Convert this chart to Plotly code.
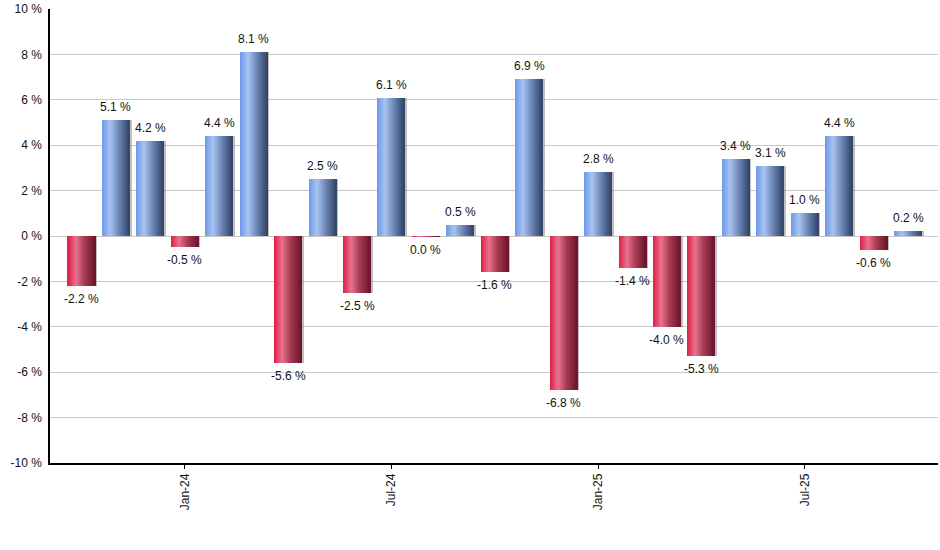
import plotly.graph_objects as go

months = ["Oct-23", "Nov-23", "Dec-23", "Jan-24", "Feb-24", "Mar-24", "Apr-24", "May-24",
          "Jun-24", "Jul-24", "Aug-24", "Sep-24", "Oct-24", "Nov-24", "Dec-24", "Jan-25",
          "Feb-25", "Mar-25", "Apr-25", "May-25", "Jun-25", "Jul-25", "Aug-25", "Sep-25", "Oct-25"]
returns = [-2.2, 5.1, 4.2, -0.5, 4.4, 8.1, -5.6, 2.5, -2.5, 6.1, -0.04, 0.5, -1.6, 6.9, -6.8,
           2.8, -1.4, -4.0, -5.3, 3.4, 3.1, 1.0, 4.4, -0.6, 0.2]
labels = ["-2.2 %", "5.1 %", "4.2 %", "-0.5 %", "4.4 %", "8.1 %", "-5.6 %", "2.5 %", "-2.5 %",
          "6.1 %", "0.0 %", "0.5 %", "-1.6 %", "6.9 %", "-6.8 %", "2.8 %", "-1.4 %", "-4.0 %",
          "-5.3 %", "3.4 %", "3.1 %", "1.0 %", "4.4 %", "-0.6 %", "0.2 %"]
y_ticks = [-10, -8, -6, -4, -2, 0, 2, 4, 6, 8, 10]
y_tick_text = ["%d %%" % v for v in y_ticks]

x = list(range(len(months)))
tick_idx = [i for i, m in enumerate(months) if m.startswith(("Jan", "Jul"))]

# gradient stops (position, rgb) for positive and negative bars
blue_stops = [(0.0, (108, 152, 232)), (0.3, (168, 195, 242)), (0.6, (112, 138, 186)), (1.0, (50, 68, 105))]
red_stops = [(0.0, (222, 30, 70)), (0.3, (232, 115, 142)), (0.6, (170, 60, 85)), (1.0, (105, 22, 42))]


def interp(stops, t):
    for (p0, c0), (p1, c1) in zip(stops, stops[1:]):
        if p0 <= t <= p1:
            f = (t - p0) / (p1 - p0)
            return "rgb(%d,%d,%d)" % tuple(round(a + (b - a) * f) for a, b in zip(c0, c1))
    return "rgb(%d,%d,%d)" % stops[-1][1]


fig = go.Figure()
W = 0.785
N = 27
sw = W / N

# shadow
fig.add_trace(go.Bar(x=x, y=returns, width=W, offset=-W / 2 + 0.06,
                     marker=dict(color="rgba(130,130,130,0.5)", line=dict(width=0)),
                     hoverinfo="skip", showlegend=False))

for k in range(N):
    t = (k + 0.5) / N
    cols = [interp(blue_stops, t) if v >= 0 else interp(red_stops, t) for v in returns]
    wk = sw * 1.8 if k < N - 1 else sw
    fig.add_trace(go.Bar(x=x, y=returns, width=wk, offset=-W / 2 + k * sw,
                         marker=dict(color=cols, line=dict(width=0)),
                         hoverinfo="skip", showlegend=False))

# value labels
for xi, v, lab in zip(x, returns, labels):
    fig.add_annotation(x=xi, y=v, text=lab, showarrow=False,
                       yshift=13 if v >= 0 else -13, yanchor="middle",
                       font=dict(family="Liberation Sans, Arial", size=12, color="#111"))

fig.update_layout(
    width=940, height=550,
    margin=dict(l=50, r=2, t=9, b=87),
    paper_bgcolor="white", plot_bgcolor="white",
    barmode="overlay", bargap=0,
    font=dict(family="Liberation Sans, Arial", size=12, color="#111"),
    showlegend=False,
)
fig.update_xaxes(range=[-0.915, 24.87], tickmode="array", tickvals=tick_idx,
                 ticktext=[months[i] for i in tick_idx], tickangle=-90,
                 ticks="outside", ticklen=4, tickcolor="black",
                 showline=True, linecolor="black", linewidth=1.5,
                 showgrid=False, zeroline=False, automargin=False)
fig.update_yaxes(range=[-10, 10], tickmode="array", tickvals=y_ticks, ticktext=y_tick_text,
                 showgrid=True, gridcolor="#c8c8c8", gridwidth=1,
                 zeroline=True, zerolinecolor="#c8c8c8", zerolinewidth=1,
                 showline=True, linecolor="black", linewidth=1.5,
                 ticks="", ticklabelstandoff=4, automargin=False)

fig.write_html("out.html", config={"displayModeBar": False},
               post_script="document.body.style.margin='0';")
